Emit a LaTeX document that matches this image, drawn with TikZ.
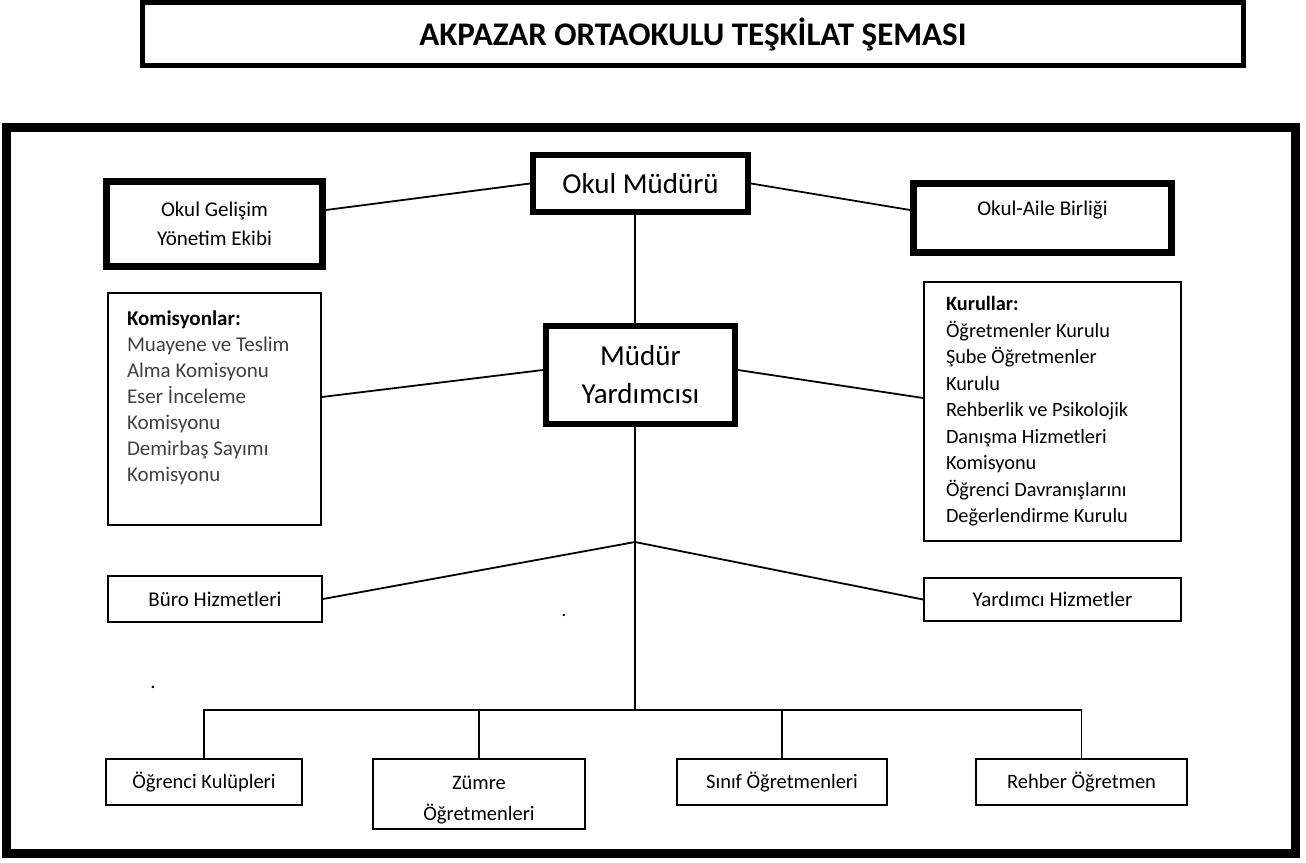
\documentclass[tikz,border=0pt]{standalone}
\usepackage{fontspec}
\setmainfont{Carlito}
\definecolor{komgray}{RGB}{64,64,64}
\begin{document}
\begin{tikzpicture}[x=1pt,y=-1pt,
  heavybox/.style={draw, line width=6pt, inner sep=0pt, align=center},
  lightbox/.style={draw, line width=1.8pt, inner sep=0pt, align=center},
  conn/.style={line width=1.8pt},
  bigtxt/.style={font=\fontsize{29}{38}\selectfont},
  midtxt/.style={font=\fontsize{21}{29}\selectfont},
  smalltxt/.style={font=\fontsize{20.5}{31}\selectfont}]
\useasboundingbox (0,0) rectangle (1306,862);

% title
\node[draw, line width=5pt, minimum width=1101pt, minimum height=63pt, inner sep=0pt,
      font=\fontsize{33}{38}\selectfont\bfseries] (title) at (693,34) {AKPAZAR ORTAOKULU TEŞKİLAT ŞEMASI};

% main frame
\node[draw, line width=9pt, minimum width=1289pt, minimum height=726pt, inner sep=0pt] (frame) at (650.5,490.5) {};

% top level
\node[heavybox, bigtxt, minimum width=215pt, minimum height=57pt] (om) at (640.5,183.5) {Okul Müdürü};
\node[heavybox, midtxt, line width=7pt, minimum width=216pt, minimum height=85pt] (ogye) at (214.5,224) {Okul Gelişim\\Yönetim Ekibi};
\node[heavybox, line width=7pt, minimum width=258pt, minimum height=69pt] (oab) at (1042.5,218) {};
\node[midtxt] (oabtxt) at ([yshift=8pt]oab.center) {Okul-Aile Birliği};

% second level
\node[heavybox, bigtxt, minimum width=189pt, minimum height=98pt] (my) at (640.5,375) {Müdür\\Yardımcısı};
\node[lightbox, align=flush left, text width=175pt, inner xsep=19pt, minimum height=232pt,
      font=\fontsize{21}{26}\selectfont] (kom) at (214.5,409)
  {\textbf{Komisyonlar:}\\\color{komgray}Muayene ve Teslim\\Alma Komisyonu\\Eser İnceleme\\Komisyonu\\Demirbaş Sayımı\\Komisyonu\\\mbox{}};
\node[lightbox, align=flush left, text width=213pt, inner xsep=22pt, minimum height=259pt,
      font=\fontsize{20.3}{26.5}\selectfont] (kur) at (1052.5,411.5)
  {\textbf{Kurullar:}\\Öğretmenler Kurulu\\Şube Öğretmenler\\Kurulu\\Rehberlik ve Psikolojik\\Danışma Hizmetleri\\Komisyonu\\Öğrenci Davranışlarını\\Değerlendirme Kurulu};

% services
\node[lightbox, midtxt, minimum width=214pt, minimum height=46pt] (buro) at (215,599) {Büro Hizmetleri};
\node[lightbox, midtxt, minimum width=257pt, minimum height=43pt] (yard) at (1052.5,599.5) {Yardımcı Hizmetler};

% bottom
\node[lightbox, smalltxt, minimum width=196pt, minimum height=46pt] (ogr) at (204,782) {Öğrenci Kulüpleri};
\node[lightbox, minimum width=212pt, minimum height=70pt] (zum) at (479,794) {};
\node[smalltxt, align=center, inner sep=0pt] (zumtxt) at ([yshift=-6pt]zum.center) {Zümre\\Öğretmenleri};
\node[lightbox, smalltxt, minimum width=210pt, minimum height=46pt] (sin) at (782,782) {Sınıf Öğretmenleri};
\node[lightbox, smalltxt, minimum width=211pt, minimum height=46pt] (reh) at (1081.5,782) {Rehber Öğretmen};

% stray dots
\node[smalltxt, inner sep=0pt, anchor=base] (dotA) at (564,616) {.};
\node[smalltxt, inner sep=0pt, anchor=base] (dotB) at (153,688) {.};

% connectors
\coordinate (apex) at (635,542);
\coordinate (bus) at (635,710);
\draw[conn] (om.west) -- ([yshift=14pt]ogye.east);
\draw[conn] (om.east) -- ([yshift=8pt]oab.west);
\draw[conn] (om.south -| apex) -- (my.north -| apex);
\draw[conn] ([yshift=5pt]my.west) -- ([yshift=12pt]kom.east);
\draw[conn] ([yshift=5pt]my.east) -- ([yshift=13.5pt]kur.west);
\draw[conn] (my.south -| apex) -- (bus);
\draw[conn] (buro.east) -- (apex) -- (yard.west);
\draw[conn] (ogr.north) |- (bus) -| (reh.north);
\draw[conn] (zum.north) -- (zum.north |- bus);
\draw[conn] (sin.north) -- (sin.north |- bus);
\end{tikzpicture}
\end{document}
